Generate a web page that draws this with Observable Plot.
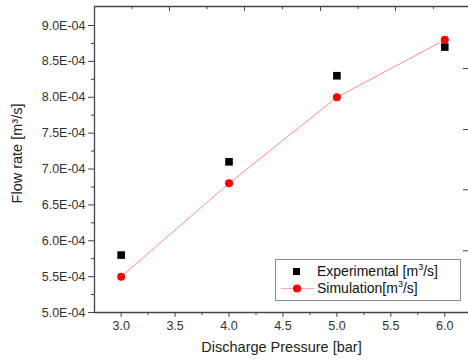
<!DOCTYPE html>
<html>
<head>
<meta charset="utf-8">
<script src="https://cdn.jsdelivr.net/npm/d3@7"></script>
<script src="https://cdn.jsdelivr.net/npm/@observablehq/plot@0.6"></script>
<style>
  body { margin: 0; background: #fff; }
  #wrap { position: relative; width: 468px; height: 362px; font-family: "Liberation Sans", Arial, sans-serif; }
  #legend { position: absolute; left: 275px; top: 259px; width: 184px; height: 40px; border: 1px solid #8a8a8a; background: #fff; font-size: 14px; color: #111; }
  .row { position: absolute; left: 0; height: 17px; line-height: 17px; white-space: nowrap; }
  .row svg { position: absolute; left: 0; top: 0; }
  .row span { position: absolute; left: 41px; }
  sup { font-size: 9px; line-height: 0; vertical-align: 6px; }
</style>
</head>
<body>
<div id="wrap"></div>
<script>
const pressure = [3.0, 4.0, 5.0, 6.0];
const experimental = [5.80e-4, 7.10e-4, 8.30e-4, 8.70e-4];
const simulation = [5.50e-4, 6.80e-4, 8.00e-4, 8.80e-4];
const xTicks = [3.0, 3.5, 4.0, 4.5, 5.0, 5.5, 6.0];
const xMinor = [3.25, 3.75, 4.25, 4.75, 5.25, 5.75];
const yTicks = [5.0e-4, 5.5e-4, 6.0e-4, 6.5e-4, 7.0e-4, 7.5e-4, 8.0e-4, 8.5e-4, 9.0e-4];
const yMinor = [5.25e-4, 5.75e-4, 6.25e-4, 6.75e-4, 7.25e-4, 7.75e-4, 8.25e-4, 8.75e-4];
const topMajor = [3.448, 4.143, 4.848, 5.543];
const topMinor = [3.102, 3.797, 4.495, 5.197, 5.895];
const rightTicks = [8.40e-4, 7.55e-4, 6.71e-4, 5.86e-4];
const xDomain = [2.753, 6.22];
const yDomain = [5.0e-4, 9.265e-4];

const expData = pressure.map((p, i) => ({p, v: experimental[i]}));
const simData = pressure.map((p, i) => ({p, v: simulation[i]}));

const axisColor = "#444";
const W = 468, H = 362, mL = 94, mT = 6, mB = 50, mR = 0;
const innerW = W - mL - mR, innerH = H - mT - mB;
const blank = () => "";

const chart = Plot.plot({
  width: W, height: H,
  marginLeft: mL, marginRight: mR, marginTop: mT, marginBottom: mB,
  style: {fontFamily: "'Liberation Sans', Arial, sans-serif", fontSize: "12px", color: "#333", background: "#fff", overflow: "visible"},
  x: {domain: xDomain},
  y: {domain: yDomain},
  marks: [
    Plot.ruleX([xDomain[0]], {stroke: axisColor, strokeWidth: 1.3}),
    Plot.ruleY([yDomain[0]], {stroke: axisColor, strokeWidth: 1.3}),
    Plot.ruleY([yDomain[1]], {stroke: axisColor, strokeWidth: 1.3}),
    Plot.axisX({ticks: xTicks, tickSize: 5, tickFormat: d => d.toFixed(1), tickPadding: 4, label: null, stroke: axisColor, fill: "#333", fontSize: 12.5}),
    Plot.axisX({ticks: xMinor, tickSize: 3, tickFormat: blank, label: null, stroke: axisColor}),
    Plot.axisY({ticks: yTicks, tickSize: 6, tickFormat: d => (d * 1e4).toFixed(1) + "E-04", tickPadding: 3, label: null, stroke: axisColor, fill: "#333", fontSize: 12.5}),
    Plot.axisY({ticks: yMinor, tickSize: 3, tickFormat: blank, label: null, stroke: axisColor}),
    Plot.tickX(topMajor, {x: d => d, insetBottom: innerH - 5, stroke: axisColor}),
    Plot.tickX(topMinor, {x: d => d, insetBottom: innerH - 3, stroke: axisColor}),
    Plot.tickY(rightTicks, {y: d => d, insetLeft: innerW - 5, stroke: axisColor}),
    Plot.line(simData, {x: "p", y: "v", stroke: "#ff0000", strokeOpacity: 0.45, strokeWidth: 1}),
    Plot.dot(expData, {x: "p", y: "v", symbol: "square", r: 4.3, fill: "#000", stroke: "none"}),
    Plot.dot(simData, {x: "p", y: "v", r: 4, fill: "#ff0000", stroke: "none"}),
    Plot.text(["Discharge Pressure [bar]"], {frameAnchor: "bottom", dy: 39, text: d => d, fontSize: 14.5, fill: "#222"}),
    Plot.text(["Flow rate [m³/s]"], {frameAnchor: "left", textAnchor: "middle", dx: -77, dy: -6, rotate: -90, text: d => d, fontSize: 14.5, fill: "#222"})
  ]
});

const wrap = document.getElementById("wrap");
wrap.appendChild(chart);

const legend = document.createElement("div");
legend.id = "legend";
legend.innerHTML = `
  <div class="row" style="top:3px;width:184px">
    <svg width="40" height="17"><rect x="17" y="5" width="7" height="7" fill="#000"/></svg>
    <span>Experimental [m<sup>3</sup>/s]</span>
  </div>
  <div class="row" style="top:20px;width:184px">
    <svg width="40" height="17"><line x1="5" x2="38" y1="8.5" y2="8.5" stroke="#ff0000" stroke-opacity="0.35" stroke-width="1"/><circle cx="21" cy="8.5" r="4" fill="#ff0000"/></svg>
    <span>Simulation[m<sup>3</sup>/s]</span>
  </div>`;
wrap.appendChild(legend);
</script>
</body>
</html>
